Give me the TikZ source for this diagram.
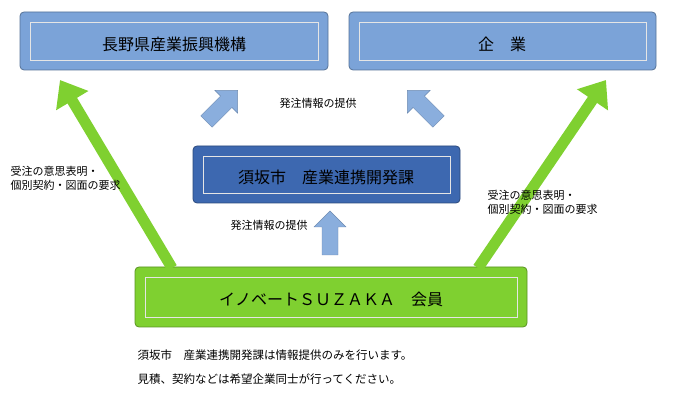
\documentclass[tikz,border=0pt]{standalone}
\usepackage{fontspec}
\setmainfont{Noto Sans CJK JP}
\usetikzlibrary{arrows.meta}
\definecolor{boxblue}{HTML}{7BA3D8}
\definecolor{boxdark}{HTML}{3D68B0}
\definecolor{boxgreen}{HTML}{7FD030}
\definecolor{arrblue}{HTML}{8AAEDD}
\tikzset{
  org/.style={draw=#1!70!black,fill=#1,rounded corners=4pt,thick},
  inner/.style={draw=white!80!gray,line width=0.6pt},
  blockarr/.style={fill=arrblue,draw=arrblue!80!black},
  bigarr/.style={draw=boxgreen,line width=11pt,-{Triangle[length=24pt,width=36pt]}},
  lbl/.style={font=\fontsize{11}{14}\selectfont,align=left,anchor=west}
}
% block arrow pointing along +x, centred on its length
\newcommand\blockarrow[2]{%
  \begin{scope}[shift={#1},rotate=#2]
    \draw[blockarr] (-22,-8) -- (6,-8) -- (6,-16) -- (22,0) -- (6,16) -- (6,8) -- (-22,8) -- cycle;
  \end{scope}}
\begin{document}
\begin{tikzpicture}[x=1pt,y=-1pt]
  \useasboundingbox (0,0) rectangle (680,403);
  % boxes
  \draw[org=boxblue] (20,12) rectangle (328,70);
  \draw[inner] (30,22) rectangle (318,60);
  \node (kikou) at (174,44) {\fontsize{16}{18}\selectfont 長野県産業振興機構};
  \draw[org=boxblue] (349,12) rectangle (656,70);
  \draw[inner] (359,22) rectangle (646,60);
  \node (kigyou) at (502,44) {\fontsize{16}{18}\selectfont 企　業};
  \draw[org=boxdark] (193,146) rectangle (460,203);
  \draw[inner] (203,156) rectangle (450,193);
  \node (suzaka) at (326,177) {\fontsize{16}{18}\selectfont 須坂市　産業連携開発課};
  \draw[org=boxgreen] (135,267) rectangle (527,327);
  \draw[inner] (145,277) rectangle (517,317);
  \node (kaiin) at (331,299) {\fontsize{16}{18}\selectfont イノベートＳＵＺＡＫＡ　会員};
  % block arrows
  \blockarrow{(222,106)}{45}
  \blockarrow{(423,106)}{135}
  \blockarrow{(330,233)}{90}
  % green arrows
  \coordinate (gl) at (60,80);
  \coordinate (gr) at (606,80);
  \draw[bigarr] (172,268) -- (gl);
  \draw[bigarr] (478,268) -- (gr);
  % labels
  \node[lbl] (t1) at (276,103) {発注情報の提供};
  \node[lbl] (t2) at (227,225) {発注情報の提供};
  \node[lbl] (t3) at (7,178) {受注の意思表明・\\個別契約・図面の要求};
  \node[lbl] (t4) at (484,202) {受注の意思表明・\\個別契約・図面の要求};
  \node[lbl,font=\fontsize{11.5}{24}\selectfont] (t5) at (134,367) {須坂市　産業連携開発課は情報提供のみを行います。\\見積、契約などは希望企業同士が行ってください。};
\end{tikzpicture}
\end{document}
